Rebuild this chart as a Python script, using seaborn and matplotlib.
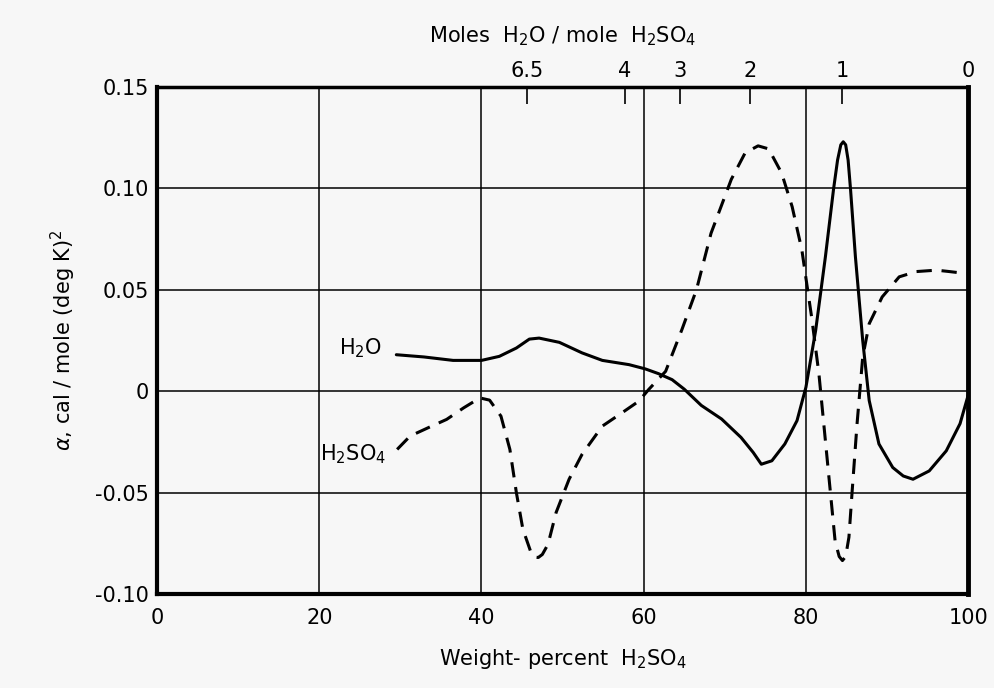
import numpy as np
import pandas as pd
import matplotlib
matplotlib.use("Agg")
import matplotlib.pyplot as plt
import seaborn as sns

# ---- data ----
h2o_x = [29.5, 32.9, 36.5, 40.0, 42.2, 44.3, 45.9, 47.1, 49.6, 52.4, 54.9, 58.2,
         60.2, 61.8, 63.5, 65.0, 67.1, 69.6, 72.0, 73.5, 74.5, 75.8, 77.4, 78.9,
         80.0, 81.2, 82.4, 83.4, 83.9, 84.3, 84.6, 84.9, 85.2, 85.5, 86.1, 87.0,
         87.8, 89.0, 90.7, 92.0, 93.2, 95.2, 97.3, 99.0, 100.0]
h2o_y = [0.018, 0.0169, 0.0152, 0.0152, 0.0172, 0.0213, 0.0257, 0.0262, 0.0241,
         0.0189, 0.0152, 0.0131, 0.011, 0.0087, 0.0057, 0.001, -0.007, -0.0137,
         -0.0228, -0.0302, -0.036, -0.0343, -0.026, -0.0145, 0.002, 0.030, 0.0663,
         0.0995, 0.114, 0.1215, 0.123, 0.1215, 0.114, 0.0995, 0.0663, 0.025,
         -0.0046, -0.026, -0.0376, -0.0418, -0.0434, -0.0393, -0.0294, -0.016, -0.002]

h2so4_x = [29.6, 31.2, 33.7, 35.7, 37.8, 39.8, 41.0, 42.4, 43.5, 44.3, 45.1, 46.1,
           46.6, 47.0, 47.5, 48.2, 49.2, 50.8, 52.4, 54.9, 57.3, 59.4, 60.6, 62.7,
           64.7, 66.5, 68.3, 70.8, 72.5, 74.1, 75.4, 77.0, 78.3, 79.5, 80.1, 80.7,
           81.6, 82.4, 83.0, 83.6, 84.1, 84.5, 84.9, 85.3, 85.7, 86.3, 87.0, 87.8,
           89.4, 91.5, 93.6, 96.1, 97.7, 99.8]
h2so4_y = [-0.0287, -0.0221, -0.0175, -0.0139, -0.0082, -0.0033, -0.0044, -0.0123,
           -0.0287, -0.050, -0.068, -0.0795, -0.0818, -0.082, -0.0805, -0.0755,
           -0.0598, -0.0434, -0.0311, -0.0172, -0.0107, -0.0049, 0.0008, 0.0098,
           0.0303, 0.050, 0.0779, 0.1045, 0.1175, 0.1210, 0.1195, 0.1076, 0.091,
           0.0696, 0.053, 0.0366, 0.0086, -0.0244, -0.0492, -0.074, -0.0815,
           -0.0835, -0.0815, -0.072, -0.0492, -0.0162, 0.0168, 0.0333, 0.0465,
           0.0564, 0.0590, 0.0597, 0.0590, 0.058]

x_ticks = [0, 20, 40, 60, 80, 100]
x_ticklabels = ["0", "20", "40", "60", "80", "100"]
x_minor = [10, 30, 50, 70, 90]
y_ticks = [-0.10, -0.05, 0.0, 0.05, 0.10, 0.15]
y_ticklabels = ["-0.10", "-0.05", "0", "0.05", "0.10", "0.15"]
top_ticks = [45.6, 57.7, 64.5, 73.1, 84.5, 100.0]
top_ticklabels = ["6.5", "4", "3", "2", "1", "0"]

df_h2o = pd.DataFrame({"x": h2o_x, "y": h2o_y})
df_acid = pd.DataFrame({"x": h2so4_x, "y": h2so4_y})

sns.set_style("white")
plt.rcParams["font.family"] = ["DejaVu Sans"]
for k in ["text.color", "axes.labelcolor", "xtick.color", "ytick.color"]:
    plt.rcParams[k] = "black"
bg = "#f7f7f7"
fig = plt.figure(figsize=(9.94, 6.88), dpi=100, facecolor=bg)
ax = fig.add_axes([0.158, 0.1366, 0.816, 0.7369])
ax.set_facecolor(bg)

# grid
for gx in [20, 40, 60, 80]:
    ax.axvline(gx, color="black", lw=1.1, zorder=1)
for gy in [-0.05, 0.0, 0.05, 0.10]:
    ax.axhline(gy, color="black", lw=1.1, zorder=1)

sns.lineplot(data=df_h2o, x="x", y="y", ax=ax, color="black", lw=2.2,
             sort=False, zorder=3)
sns.lineplot(data=df_acid, x="x", y="y", ax=ax, color="black", lw=2.2,
             sort=False, zorder=3, dashes=False, linestyle=(0, (5, 3.2)))

ax.set_xlim(0, 100)
ax.set_ylim(-0.10, 0.15)
ax.set_xticks(x_ticks)
ax.set_xticklabels(x_ticklabels, fontsize=15)
ax.set_xticks(x_minor, minor=True)
ax.set_yticks(y_ticks)
ax.set_yticklabels(y_ticklabels, fontsize=15)
ax.tick_params(axis="x", which="major", direction="in", length=0, pad=10)
ax.tick_params(axis="x", which="minor", direction="in", length=12, width=1.2)
ax.tick_params(axis="y", which="major", direction="in", length=0, pad=6)

for s in ax.spines.values():
    s.set_visible(True)
    s.set_color("black")
ax.spines["left"].set_linewidth(3)
ax.spines["bottom"].set_linewidth(3)
ax.spines["top"].set_linewidth(2.5)
ax.spines["right"].set_linewidth(3.5)

ax.set_xlabel(r"Weight- percent  $\mathregular{H_2SO_4}$", fontsize=15, labelpad=14)
ax.set_ylabel(r"$\alpha$, cal / mole (deg K)$\mathregular{^2}$", fontsize=15, labelpad=12)

# top axis: moles water per mole acid
top = ax.secondary_xaxis("top")
top.set_xticks(top_ticks)
top.set_xticklabels(top_ticklabels, fontsize=15)
top.tick_params(direction="in", length=12, width=1.2, pad=4)
top.spines["top"].set_visible(False)
top.set_xlabel(r"Moles  $\mathregular{H_2O}$ / mole  $\mathregular{H_2SO_4}$",
               fontsize=15, labelpad=14)

ax.text(27.8, 0.021, r"$\mathregular{H_2O}$", fontsize=15, ha="right", va="center")
ax.text(28.2, -0.031, r"$\mathregular{H_2SO_4}$", fontsize=15, ha="right", va="center")

fig.savefig("out.png", dpi=100, facecolor=bg)
